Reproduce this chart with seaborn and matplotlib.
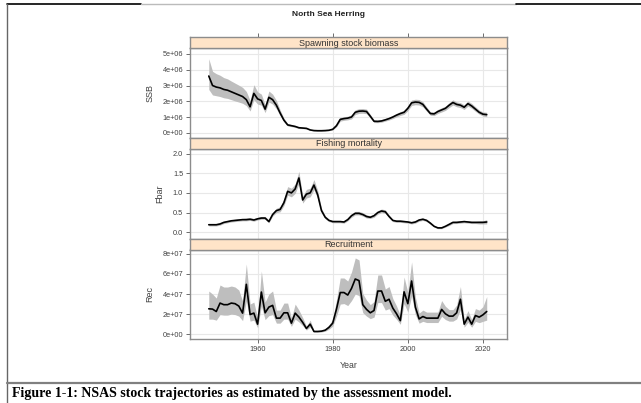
import matplotlib
matplotlib.use("Agg")
import matplotlib.pyplot as plt
from matplotlib.lines import Line2D
from matplotlib.ticker import FuncFormatter, FixedLocator
import numpy as np
import seaborn as sns

years = list(range(1947, 2022))

ssb = [3.60, 3.00, 2.90, 2.85, 2.75, 2.70, 2.60, 2.50, 2.40, 2.30, 2.10, 1.65, 2.50,
       2.15, 2.05, 1.50, 2.25, 2.10, 1.75, 1.25, 0.80, 0.50, 0.45, 0.40, 0.32, 0.30,
       0.28, 0.18, 0.14, 0.13, 0.13, 0.14, 0.16,
       0.22, 0.45, 0.85, 0.90, 0.93, 1.00, 1.30, 1.37, 1.38, 1.35, 1.05, 0.73, 0.72,
       0.75, 0.82, 0.90, 1.00, 1.12, 1.22, 1.30, 1.55, 1.90, 1.95, 1.93, 1.80, 1.50,
       1.22, 1.20, 1.35, 1.45, 1.55, 1.75, 1.92, 1.80, 1.75, 1.62, 1.85, 1.70, 1.50,
       1.30, 1.18, 1.15]
ssb_lo = [2.75, 2.40, 2.35, 2.30, 2.22, 2.18, 2.10, 2.02, 1.95, 1.87, 1.72, 1.38, 2.10,
          1.82, 1.75, 1.28, 1.95, 1.82, 1.52, 1.08, 0.70, 0.43, 0.39, 0.34, 0.27, 0.26,
          0.24, 0.15, 0.11, 0.10, 0.10, 0.11, 0.13,
          0.18, 0.38, 0.74, 0.79, 0.82, 0.88, 1.16, 1.23, 1.24, 1.21, 0.94, 0.65, 0.64,
          0.67, 0.74, 0.81, 0.90, 1.01, 1.10, 1.17, 1.40, 1.73, 1.78, 1.76, 1.64, 1.37,
          1.11, 1.09, 1.23, 1.32, 1.42, 1.60, 1.76, 1.65, 1.60, 1.48, 1.69, 1.55, 1.36,
          1.18, 1.06, 1.02]
ssb_hi = [4.70, 3.90, 3.75, 3.65, 3.50, 3.42, 3.28, 3.15, 3.02, 2.88, 2.62, 2.05, 3.05,
          2.60, 2.45, 1.78, 2.65, 2.45, 2.05, 1.45, 0.93, 0.58, 0.52, 0.46, 0.37, 0.35,
          0.33, 0.22, 0.17, 0.16, 0.16, 0.17, 0.20,
          0.27, 0.53, 0.97, 1.02, 1.05, 1.13, 1.46, 1.53, 1.54, 1.50, 1.17, 0.82, 0.81,
          0.84, 0.91, 0.99, 1.10, 1.23, 1.34, 1.43, 1.71, 2.08, 2.13, 2.11, 1.97, 1.64,
          1.33, 1.32, 1.48, 1.59, 1.69, 1.91, 2.09, 1.96, 1.91, 1.77, 2.02, 1.86, 1.65,
          1.44, 1.32, 1.30]

fbar = [0.19, 0.19, 0.19, 0.21, 0.25, 0.27, 0.29, 0.30, 0.31, 0.32, 0.32, 0.33, 0.31,
        0.34, 0.36, 0.36, 0.27, 0.45, 0.55, 0.58, 0.75, 1.04, 1.00, 1.10, 1.38, 0.82,
        0.97, 1.00, 1.20, 0.95, 0.55, 0.38, 0.30,
        0.27, 0.27, 0.27, 0.26, 0.32, 0.42, 0.48, 0.48, 0.45, 0.40, 0.38, 0.42, 0.50,
        0.54, 0.52, 0.40, 0.30, 0.28, 0.28, 0.27, 0.26, 0.24, 0.26, 0.31, 0.33, 0.30,
        0.23, 0.15, 0.11, 0.11, 0.15, 0.20, 0.25, 0.25, 0.26, 0.27, 0.26, 0.25, 0.25,
        0.25, 0.25, 0.26]
fbar_lo = [0.16, 0.16, 0.16, 0.18, 0.22, 0.24, 0.26, 0.27, 0.28, 0.29, 0.29, 0.30, 0.28,
           0.31, 0.33, 0.33, 0.24, 0.41, 0.50, 0.52, 0.68, 0.94, 0.90, 0.99, 1.24, 0.74,
           0.87, 0.90, 1.08, 0.86, 0.50, 0.34, 0.27,
           0.24, 0.24, 0.24, 0.23, 0.29, 0.38, 0.44, 0.44, 0.41, 0.36, 0.35, 0.38, 0.46,
           0.50, 0.48, 0.37, 0.27, 0.25, 0.25, 0.24, 0.23, 0.21, 0.23, 0.28, 0.30, 0.27,
           0.20, 0.13, 0.09, 0.09, 0.13, 0.17, 0.22, 0.22, 0.23, 0.24, 0.23, 0.22, 0.22,
           0.21, 0.21, 0.21]
fbar_hi = [0.22, 0.22, 0.22, 0.24, 0.28, 0.30, 0.32, 0.33, 0.34, 0.35, 0.36, 0.37, 0.35,
           0.38, 0.40, 0.40, 0.31, 0.50, 0.61, 0.65, 0.84, 1.16, 1.12, 1.23, 1.55, 0.92,
           1.09, 1.12, 1.34, 1.06, 0.61, 0.42, 0.33,
           0.30, 0.30, 0.30, 0.29, 0.36, 0.47, 0.53, 0.53, 0.50, 0.44, 0.42, 0.46, 0.55,
           0.59, 0.57, 0.44, 0.33, 0.31, 0.31, 0.30, 0.29, 0.27, 0.29, 0.34, 0.36, 0.33,
           0.26, 0.17, 0.13, 0.13, 0.17, 0.23, 0.28, 0.28, 0.29, 0.30, 0.29, 0.28, 0.28,
           0.29, 0.29, 0.32]

rec = [2.53, 2.50, 2.26, 3.10, 2.94, 2.94, 3.10, 3.04, 2.80, 2.10, 4.97, 1.96, 2.10,
       1.00, 4.20, 2.13, 2.70, 2.87, 1.60, 1.60, 2.13, 2.13, 1.10, 2.10, 1.70, 1.18,
       0.57, 1.00, 0.27, 0.27, 0.30, 0.40, 0.68,
       1.10, 2.50, 4.15, 4.15, 3.90, 4.56, 5.50, 5.34, 2.94, 2.47, 2.13, 2.36, 4.30,
       4.30, 3.28, 3.48, 2.60, 2.03, 1.35, 4.22, 3.04, 5.30, 2.70, 1.52, 1.76, 1.60,
       1.60, 1.60, 1.60, 2.47, 2.03, 1.80, 1.80, 2.13, 3.48, 1.00, 1.70, 1.00, 1.86,
       1.70, 1.93, 2.26]
rec_lo = [1.50, 1.50, 1.40, 1.95, 1.90, 1.90, 2.00, 1.95, 1.80, 1.35, 3.30, 1.30, 1.40,
          0.65, 2.80, 1.45, 1.85, 1.95, 1.10, 1.10, 1.50, 1.50, 0.78, 1.50, 1.22, 0.85,
          0.41, 0.72, 0.20, 0.20, 0.22, 0.30, 0.50,
          0.80, 1.80, 3.00, 3.05, 2.85, 3.35, 4.00, 3.85, 2.15, 1.80, 1.55, 1.70, 3.15,
          3.15, 2.40, 2.55, 1.90, 1.48, 0.98, 3.05, 2.20, 3.80, 1.95, 1.10, 1.28, 1.16,
          1.16, 1.16, 1.16, 1.78, 1.46, 1.30, 1.30, 1.52, 2.45, 0.70, 1.18, 0.70, 1.28,
          1.15, 1.28, 1.40]
rec_hi = [4.30, 4.00, 3.60, 4.90, 4.70, 4.70, 4.80, 4.70, 4.40, 3.30, 7.00, 3.00, 3.20,
          1.60, 6.30, 3.20, 4.00, 4.30, 2.40, 2.40, 3.10, 3.10, 1.60, 3.00, 2.40, 1.65,
          0.80, 1.40, 0.38, 0.38, 0.42, 0.55, 0.92,
          1.50, 3.40, 5.60, 5.60, 5.30, 6.20, 7.60, 7.40, 4.05, 3.40, 2.95, 3.25, 5.90,
          5.90, 4.50, 4.75, 3.55, 2.80, 1.86, 5.70, 4.15, 7.20, 3.70, 2.10, 2.40, 2.20,
          2.20, 2.20, 2.20, 3.35, 2.78, 2.45, 2.45, 2.90, 4.75, 1.45, 2.35, 1.45, 2.55,
          2.40, 2.75, 3.75]

panel_titles = ["Spawning stock biomass", "Fishing mortality", "Recruitment"]
y_labels = ["SSB", "Fbar", "Rec"]
x_ticks = [1960, 1980, 2000, 2020]
title = "North Sea Herring"
caption = "Figure 1-1: NSAS stock trajectories as estimated by the assessment model."

sns.set_style("white")
plt.rcParams['font.family'] = ['Liberation Sans', 'DejaVu Sans']

W, H = 641, 403
fig = plt.figure(figsize=(W / 100, H / 100), dpi=100)


def rect(x0, y0, x1, y1):
    return [x0 / W, 1 - y1 / H, (x1 - x0) / W, (y1 - y0) / H]


def fx(x):
    return x / W


def fy(y):
    return 1 - y / H


XL, XR = 190, 507
layout = [(37, 48, 137.5), (137.5, 148.5, 238.5), (238.5, 249.5, 339)]
series = [
    (np.array(ssb) * 1e6, np.array(ssb_lo) * 1e6, np.array(ssb_hi) * 1e6,
     (-0.3e6, 5.38e6), [0, 1e6, 2e6, 3e6, 4e6, 5e6], lambda v, p: format(v, '.0e')),
    (np.array(fbar), np.array(fbar_lo), np.array(fbar_hi),
     (-0.16, 2.13), [0, 0.5, 1.0, 1.5, 2.0], lambda v, p: f"{v:.1f}"),
    (np.array(rec) * 1e7, np.array(rec_lo) * 1e7, np.array(rec_hi) * 1e7,
     (-0.48e7, 8.44e7), [0, 2e7, 4e7, 6e7, 8e7], lambda v, p: format(v, '.0e')),
]

xlim = (1942.0, 2026.4)
border_col = '#8C8C8C'
text_col = '#404040'

for i, ((s0, s1, p1), (val, lo, hi, ylim, yt, fmt)) in enumerate(zip(layout, series)):
    ax = fig.add_axes(rect(XL, s1, XR, p1))
    ax.set_facecolor('white')
    ax.fill_between(years, lo, hi, color='#BEBEBE', lw=0, zorder=2)
    sns.lineplot(x=years, y=val, ax=ax, color='black', linewidth=1.2, zorder=3,
                 legend=False)
    ax.set_xlim(*xlim)
    ax.set_ylim(*ylim)
    ax.yaxis.set_major_locator(FixedLocator(yt))
    ax.yaxis.set_major_formatter(FuncFormatter(fmt))
    ax.xaxis.set_major_locator(FixedLocator(x_ticks))
    ax.grid(True, color='#E8E8E8', lw=0.8, zorder=0)
    ax.set_axisbelow(True)
    for sp in ax.spines.values():
        sp.set_color(border_col)
        sp.set_linewidth(1.0)
    ax.tick_params(axis='y', left=True, length=3, width=0.6, color='#555555',
                   labelsize=5.3, labelcolor=text_col, pad=2)
    if i == 2:
        ax.tick_params(axis='x', bottom=True, length=3, width=0.6, color='#555555',
                       labelsize=5.3, labelcolor=text_col, pad=2)
        ax.set_xlabel("Year", fontsize=6.3, color=text_col, labelpad=6)
    else:
        ax.tick_params(axis='x', bottom=False, labelbottom=False)
        ax.set_xlabel("")
    ax.set_ylabel(y_labels[i], fontsize=6.5, color=text_col, labelpad=6)

    sax = fig.add_axes(rect(XL, s0, XR, s1))
    sax.set_facecolor('#FFE4C8')
    sax.set_xlim(*xlim)
    sax.set_yticks([])
    sax.xaxis.set_major_locator(FixedLocator(x_ticks))
    if i == 0:
        sax.tick_params(axis='x', top=True, bottom=False, labeltop=False,
                        labelbottom=False, length=3, width=0.6, color='#555555')
    else:
        sax.tick_params(axis='x', top=False, bottom=False, labeltop=False,
                        labelbottom=False)
    for sp in sax.spines.values():
        sp.set_color(border_col)
        sp.set_linewidth(1.0)
    sax.text(0.5, 0.45, panel_titles[i], transform=sax.transAxes, ha='center',
             va='center', fontsize=6.5, color='#333333')

fig.text(fx(328), fy(14), title, ha='center', va='center', fontsize=6,
         fontweight='bold', color='#222222')

# outer frame
fig.add_artist(Line2D([fx(7), fx(141)], [fy(4), fy(4)], color='black', lw=1.2))
fig.add_artist(Line2D([fx(141), fx(516)], [fy(4), fy(4)], color='#BBBBBB', lw=1.0))
fig.add_artist(Line2D([fx(516), fx(641)], [fy(4), fy(4)], color='black', lw=1.2))
fig.add_artist(Line2D([fx(7), fx(7)], [fy(4), fy(403)], color='#666666', lw=1.0))
fig.add_artist(Line2D([fx(7), fx(641)], [fy(383), fy(383)], color='#808080', lw=1.6))

fig.text(fx(12), fy(393), caption, ha='left', va='center', fontsize=10,
         fontweight='bold', family=['Liberation Serif', 'DejaVu Serif'], color='black')

fig.savefig("out.png", dpi=100)
